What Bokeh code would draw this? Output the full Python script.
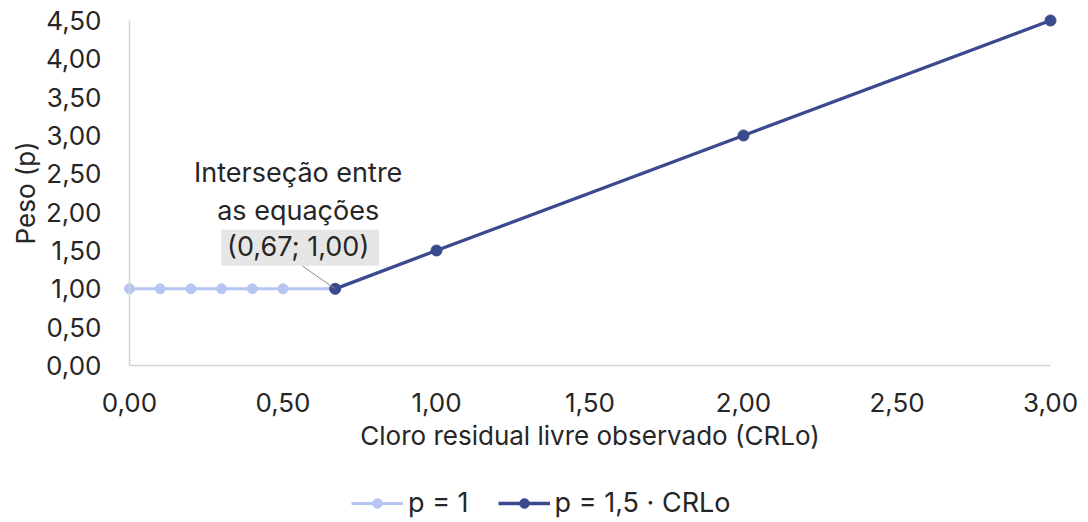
from bokeh.plotting import figure
from bokeh.models import Range1d, Label, Legend, LegendItem, FixedTicker
from bokeh.embed import file_html
from bokeh.resources import INLINE

# ---- data ----
x_const = [0.0, 0.1, 0.2, 0.3, 0.4, 0.5, 0.67]
y_const = [1.0, 1.0, 1.0, 1.0, 1.0, 1.0, 1.0]
x_lin = [0.67, 1.0, 2.0, 3.0]
y_lin = [1.0, 1.5, 3.0, 4.5]
x_ticks = [0.0, 0.5, 1.0, 1.5, 2.0, 2.5, 3.0]
y_ticks = [0.0, 0.5, 1.0, 1.5, 2.0, 2.5, 3.0, 3.5, 4.0, 4.5]
x_min, x_max = 0.0, 3.0
y_min, y_max = 0.0, 4.5
inter_x, inter_y = 0.67, 1.00
label_series1 = "p = 1"
label_series2 = "p = 1,5 · CRLo"
ann_lines = ["Interseção entre", "as equações", "(0,67; 1,00)"]

FONT = "Inter"
FS = "26px"
FS2 = "27px"
TXT = "#262626"
LIGHT = "#b7c5f2"
DARK = "#3b4a8f"
AX = "#d4d4d4"

# layout (pixels): data area placed inside the full canvas
W, H = 1084, 520
PX_LEFT, PX_RIGHT, PX_TOP, PX_BOTTOM = 129, 1050, 20, 365
sx = (PX_RIGHT - PX_LEFT) / (x_max - x_min)
sy = (PX_BOTTOM - PX_TOP) / (y_max - y_min)
x_lo = x_min - PX_LEFT / sx
x_hi = x_max + (W - PX_RIGHT) / sx
y_lo = y_min - (H - PX_BOTTOM) / sy
y_hi = y_max + PX_TOP / sy

p = figure(width=W, height=H, output_backend="svg", toolbar_location=None,
           x_range=Range1d(x_lo, x_hi), y_range=Range1d(y_lo, y_hi),
           min_border=0)
p.outline_line_color = None
p.grid.grid_line_color = None
p.background_fill_color = "white"
p.border_fill_color = "white"

for ax, ticks in ((p.xaxis[0], x_ticks), (p.yaxis[0], y_ticks)):
    ax.ticker = FixedTicker(ticks=ticks)
    ax.major_label_overrides = {t: f"{t:.2f}".replace(".", ",") for t in ticks}
    ax.major_tick_line_color = None
    ax.minor_tick_line_color = None
    ax.major_tick_out = 0
    ax.major_tick_in = 0
    ax.minor_tick_out = 0
    ax.axis_line_color = AX
    ax.axis_line_width = 1.5
    ax.major_label_text_font = FONT
    ax.major_label_text_font_size = FS
    ax.major_label_text_color = TXT
    ax.axis_label_text_font = FONT
    ax.axis_label_text_font_size = FS
    ax.axis_label_text_color = TXT
    ax.axis_label_text_font_style = "normal"

p.xaxis.fixed_location = y_min
p.yaxis.fixed_location = x_min
p.xaxis.bounds = (x_min, x_max)
p.yaxis.bounds = (y_min, y_max)
p.xaxis.axis_label = "Cloro residual livre observado (CRLo)"
p.yaxis.axis_label = "Peso (p)"
p.xaxis.major_label_standoff = 27
p.yaxis.major_label_standoff = 28
p.xaxis.axis_label_standoff = 5
p.yaxis.axis_label_standoff = 2

r1l = p.line(x_const, y_const, line_color=LIGHT, line_width=3)
r1s = p.scatter(x_const, y_const, size=10, fill_color=LIGHT, line_color=LIGHT)
r2l = p.line(x_lin, y_lin, line_color=DARK, line_width=3.3)
r2s = p.scatter(x_lin, y_lin, size=11, fill_color=DARK, line_color=DARK)

# annotation: offsets from the intersection point given in screen px
AX_OFF = -37
offs = [116, 78, 42]
p.segment(x0=[inter_x], y0=[inter_y], x1=[inter_x - 33 / sx], y1=[inter_y + 23 / sy],
          line_color="#8c8c8c", line_width=1)
p.rect(x=[inter_x + (AX_OFF + 2) / sx], y=[inter_y + (offs[2] - 1) / sy],
       width=158, height=36, width_units="screen", height_units="screen",
       fill_color="#e6e6e6", line_color=None)

for t, oy in zip(ann_lines, offs):
    p.add_layout(Label(x=inter_x, y=inter_y, x_offset=AX_OFF, y_offset=oy, text=t,
                       text_align="center", text_baseline="middle",
                       text_font=FONT, text_font_size=FS2, text_color=TXT))

legend = Legend(items=[LegendItem(label=label_series1, renderers=[r1l, r1s]),
                       LegendItem(label=label_series2, renderers=[r2l, r2s])],
                orientation="horizontal", location=(351, 1),
                border_line_color=None, background_fill_alpha=0,
                label_text_font=FONT, label_text_font_size=FS2,
                label_text_color=TXT, glyph_width=52, glyph_height=24,
                label_standoff=5, spacing=29, padding=2, margin=0)
p.add_layout(legend, "center")

open("out.html", "w").write(file_html(p, INLINE))
